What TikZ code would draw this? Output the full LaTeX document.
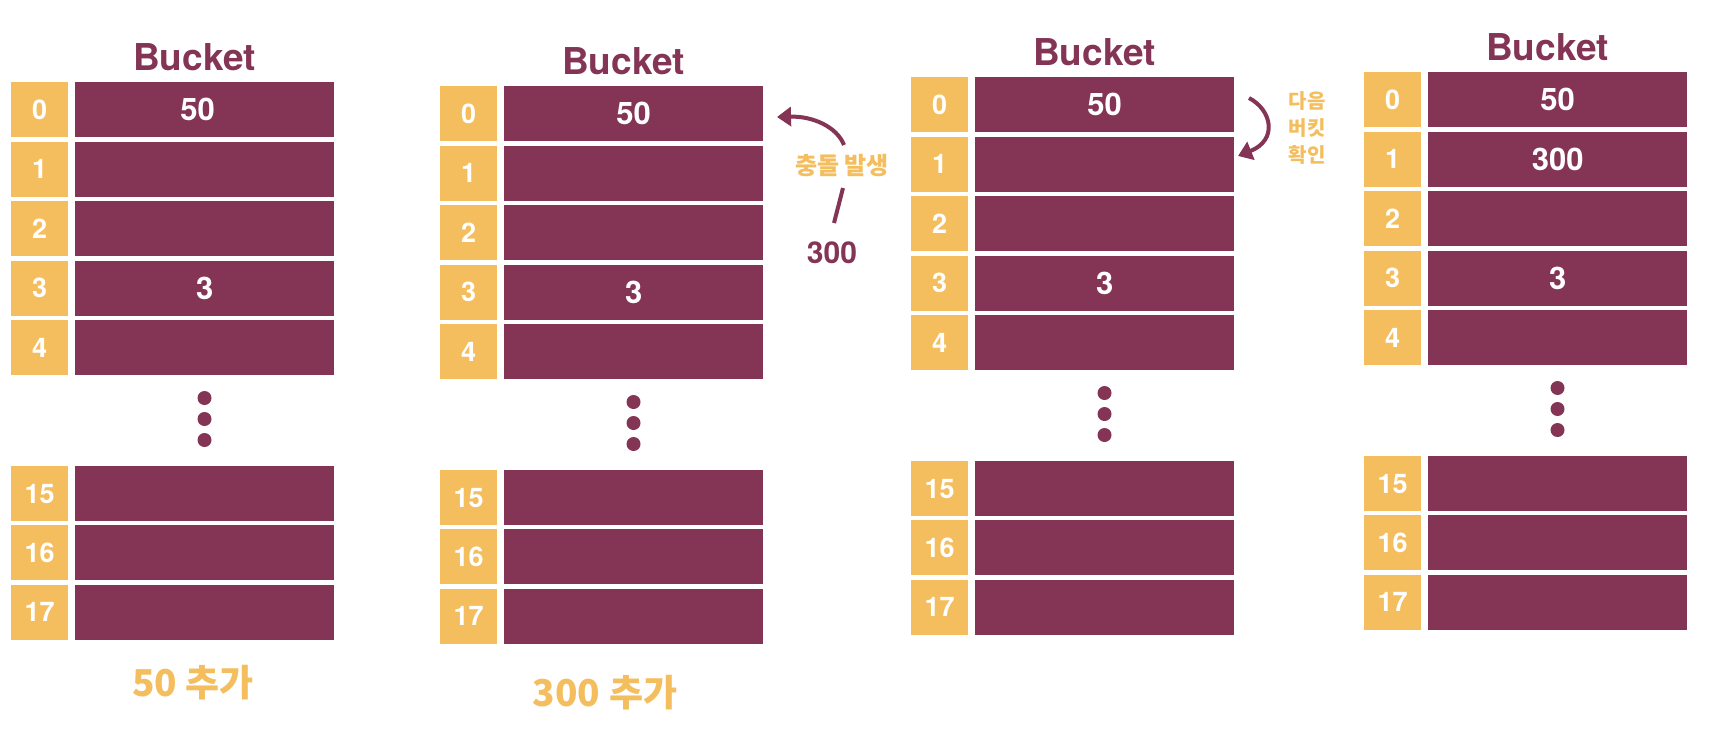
\documentclass[tikz,border=0pt]{standalone}
\usepackage{fontspec}
\setmainfont{TeX Gyre Heros}
\newfontfamily\kr{Noto Sans CJK KR}
\usetikzlibrary{arrows.meta}
\definecolor{plum}{HTML}{843454}
\definecolor{gold}{HTML}{F4BE5E}
\tikzset{
  idxbox/.style={fill=gold, minimum width=57pt, minimum height=55pt, inner sep=0pt, anchor=north west,
    text=white, font=\bfseries\fontsize{27}{32}\selectfont},
  valbox/.style={fill=plum, minimum width=259pt, minimum height=55pt, inner sep=0pt, anchor=north west},
  valtext/.style={text=white, inner sep=0pt, font=\bfseries\fontsize{31}{36}\selectfont},
  titletext/.style={text=plum, inner sep=0pt, font=\bfseries\fontsize{37}{42}\selectfont},
  caption/.style={text=gold, inner sep=0pt, font=\kr\bfseries\fontsize{37}{42}\selectfont},
  note/.style={text=gold, inner sep=0pt, align=center},
  arr/.style={draw=plum, line width=4pt},
  arrtip/.style={arr, -{Triangle[length=14pt,width=19pt]}},
}
\newcommand{\bucketpanel}[3]{%
  \node[titletext] (#1title) at (#2+183.5, #3-25) {Bucket};
  \foreach \i in {0,...,4}{
    \node[idxbox] (#1i\i) at (#2, #3+\i*59.5) {\i};
    \node[valbox] (#1v\i) at (#2+64, #3+\i*59.5) {};
  }
  \foreach \i in {15,16,17}{
    \node[idxbox] (#1i\i) at (#2, #3+384+\i*59.2-15*59.2) {\i};
    \node[valbox] (#1v\i) at (#2+64, #3+384+\i*59.2-15*59.2) {};
  }
  \foreach \k in {0,1,2}{
    \fill[plum] (#2+193.5, #3+316+\k*21) circle (7pt);
  }
}
\begin{document}
\begin{tikzpicture}[x=1pt, y=-1pt]
\useasboundingbox (0,0) rectangle (1726,736);
\fill[white] (0,0) rectangle (1726,736);

% panel 1
\bucketpanel{pa}{11}{82}
\node[valtext] (pa50) at ([xshift=-7pt]pav0.center) {50};
\node[valtext] (pa3) at (pav3.center) {3};
\node[caption] (capa) at (193,683) {50 추가};

% panel 2
\bucketpanel{pb}{440}{86}
\node[valtext] (pb50) at (pbv0.center) {50};
\node[valtext] (pb3) at (pbv3.center) {3};
\node[caption] (capb) at (605,693) {300 추가};

% panel 3
\bucketpanel{pc}{911}{77}
\node[valtext] (pc50) at (pcv0.center) {50};
\node[valtext] (pc3) at (pcv3.center) {3};

% panel 4
\bucketpanel{pd}{1364}{72}
\node[valtext] (pd50) at (pdv0.center) {50};
\node[valtext] (pd300) at (pdv1.center) {300};
\node[valtext] (pd3) at (pdv3.center) {3};

% collision arrow
\node[text=plum, inner sep=0pt, font=\bfseries\fontsize{30}{34}\selectfont] (n300) at (832,253) {300};
\node[note, font=\kr\bfseries\fontsize{24}{28}\selectfont] (collide) at (842,166) {충돌 발생};
\coordinate (ca) at (834,223);
\coordinate (cb) at (843,188);
\coordinate (cc) at (844,145);
\coordinate (ctip) at (777,117);
\draw[arr] (ca) -- (cb);
\draw[arrtip] (cc) .. controls (837,127) and (813,116) .. (ctip);

% next bucket arrow
\node[note, font=\kr\bfseries\fontsize{20}{27}\selectfont] (nextb) at (1307,128) {다음\\버킷\\확인};
\coordinate (na) at (1249,98);
\coordinate (ntip) at (1238,156);
\draw[arrtip] (na) .. controls (1272,110) and (1278,140) .. (ntip);
\end{tikzpicture}
\end{document}
